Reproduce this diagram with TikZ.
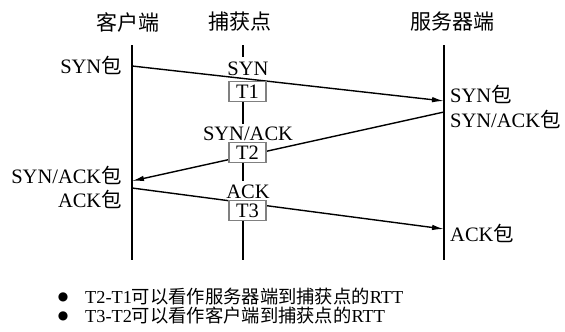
\documentclass[tikz,border=0pt]{standalone}
\usepackage{fontspec}
\setmainfont{Liberation Serif}
\newfontfamily\cjk{Noto Sans CJK SC}
\newfontfamily\symfnt{DejaVu Sans}
\usetikzlibrary{arrows.meta}
\newcommand\cbao{{\cjk 包}}
\begin{document}
\begin{tikzpicture}[x=1pt,y=-1pt,
  head/.style={font=\cjk\fontsize{21}{24}\selectfont, inner sep=0pt},
  lbl/.style={font=\fontsize{20.5}{23}\selectfont, inner sep=0pt},
  note/.style={font=\fontsize{18.3}{20}\selectfont, inner sep=0pt, anchor=base west},
  dot/.style={font=\symfnt\fontsize{12}{13}\selectfont, inner sep=0pt},
  tbox/.style={draw=gray, line width=1.8pt, fill=white, minimum width=37pt, minimum height=20pt, inner sep=0pt, font=\fontsize{20.5}{23}\selectfont},
  life/.style={line width=1.4pt},
  msg/.style={line width=1.4pt, -{Latex[length=12pt,width=5.5pt]}}
]
\useasboundingbox (0,0) rectangle (565,332);

% headers
\node[head] (hc) at (128,22) {客户端};
\node[head] (hp) at (240,22) {捕获点};
\node[head] (hs) at (452,22) {服务器端};

% lifelines
\coordinate (ct) at (132,45); \coordinate (cb) at (132,260);
\coordinate (st) at (444,45); \coordinate (sb) at (444,260);
\coordinate (pt) at (243,45); \coordinate (pb) at (243,260);
\draw[life] (ct) -- (cb);
\draw[life] (st) -- (sb);

% message endpoints
\coordinate (c1) at (132,66);  \coordinate (s1) at (444,101);
\coordinate (s2) at (444,112); \coordinate (c2) at (132,181);
\coordinate (c3) at (132,188); \coordinate (s3) at (444,229);

\draw[msg] (c1) -- (s1);
\draw[msg] (s2) -- (c2);
\draw[msg] (c3) -- (s3);

% capture point labels and boxes
\node[lbl, anchor=base] (lsyn) at (248,75) {SYN};
\node[tbox] (t1) at (247.5,91.5) {T1};
\node[lbl, anchor=base] (lsa) at (248,140.5) {SYN/ACK};
\node[tbox] (t2) at (247.5,152.5) {T2};
\node[lbl, anchor=base] (lack) at (248,198) {ACK};
\node[tbox] (t3) at (247.5,210.5) {T3};

\draw[life] (pt) -- ([yshift=4pt]pt |- lsyn.north);
\draw[life] (pt |- t1.south) -- ([yshift=3pt]pt |- lsa.north);
\draw[life] (pt |- t2.south) -- ([yshift=3pt]pt |- lack.north);
\draw[life] (pt |- t3.south) -- (pb);

% client labels
\node[lbl, anchor=base east] (csyn) at (122,73) {SYN\cbao};
\node[lbl, anchor=base east] (csa) at (122,183) {SYN/ACK\cbao};
\node[lbl, anchor=base east] (cack) at (122,207) {ACK\cbao};

% server labels
\node[lbl, anchor=base west] (ssyn) at (450,102) {SYN\cbao};
\node[lbl, anchor=base west] (ssa) at (450,127) {SYN/ACK\cbao};
\node[lbl, anchor=base west] (sack) at (450,241) {ACK\cbao};

% notes
\node[dot] (b1) at (63,297.5) {●};
\node[note] (n1) at (85,303) {T2-T1{\cjk 可以看作服务器端到捕获点的}RTT};
\node[dot] (b2) at (63,316) {●};
\node[note] (n2) at (85,322) {T3-T2{\cjk 可以看作客户端到捕获点的}RTT};
\end{tikzpicture}
\end{document}
